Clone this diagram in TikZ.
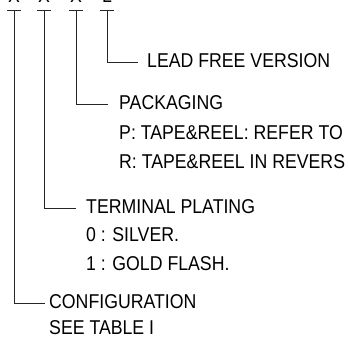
\documentclass[tikz,border=0pt]{standalone}
\usepackage{fontspec}
\setmainfont{Liberation Sans}[FakeStretch=0.885]
\usetikzlibrary{positioning}
\tikzset{
    every picture/.style={line cap=butt,line join=miter},
    lead/.style={draw=black!85,line width=0.9pt},
    head/.style={anchor=west,inner sep=0pt,text height=15pt,text depth=4pt,
      font=\fontsize{20}{23}\selectfont},
    subline/.style={head,below=#1,anchor=north west},
    digit/.style={anchor=base,inner sep=0pt,font=\fontsize{20}{23}\selectfont}
}
\begin{document}
\begin{tikzpicture}[x=1pt,y=-1pt]
  \useasboundingbox (0,0) rectangle (349,342);
  % code letters, cut off at the top edge
  \foreach \i/\x/\c in {1/14/X,2/44/X,3/76/X,4/107/L}{
    \node[digit] (c\i) at (\x,3) {\c};
    \coordinate (t\i) at (\x,10);
    \draw[lead] ([xshift=-7pt]t\i) -- ([xshift=7pt]t\i);
  }
  \node[head] (free) at (147,62) {LEAD FREE VERSION};
  \node[head] (pack) at (119,104) {PACKAGING};
  \node[subline={11pt of pack.south west}] (tapep) {P: TAPE\&REEL: REFER TO};
  \node[subline={9pt of tapep.south west}] (taper) {R: TAPE\&REEL IN REVERS};
  \node[head] (plat) at (86,208) {TERMINAL PLATING};
  \node[subline={9pt of plat.south west}] (silver) {0 : SILVER.};
  \node[subline={9pt of silver.south west}] (gold) {1 : GOLD FLASH.};
  \node[head] (conf) at (49,303) {CONFIGURATION};
  \node[subline={7pt of conf.south west}] (table) {SEE TABLE I};
  \draw[lead] (t4) |- ([xshift=-9pt]free.west);
  \draw[lead] (t3) |- ([xshift=-11pt]pack.west);
  \draw[lead] (t2) |- ([xshift=-10pt]plat.west);
  \draw[lead] (t1) |- ([xshift=-4pt]conf.west);
\end{tikzpicture}
\end{document}
